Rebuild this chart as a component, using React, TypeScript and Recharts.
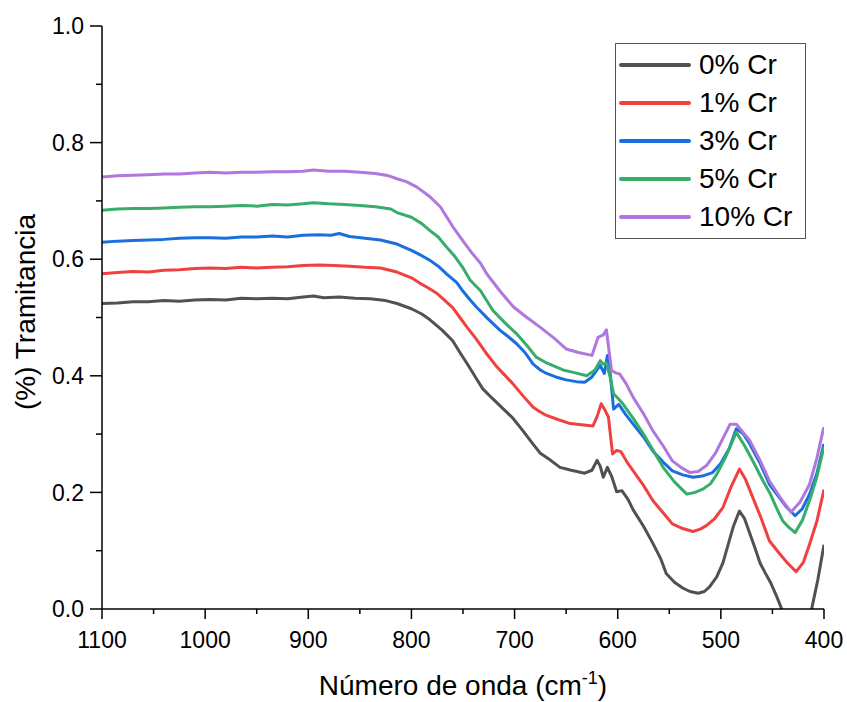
import { LineChart, Line, XAxis, YAxis, Label } from "recharts";

// wavenumber (cm-1), transmittance pairs
const cr0: [number, number][] = [
  [1100, 0.524], [1085, 0.525], [1070, 0.527], [1055, 0.527], [1040, 0.529], [1025, 0.528],
  [1010, 0.53], [995, 0.531], [980, 0.53], [965, 0.533], [950, 0.532], [935, 0.533],
  [920, 0.532], [905, 0.535], [895, 0.537], [885, 0.534], [870, 0.535], [855, 0.533],
  [840, 0.532], [825, 0.529], [814, 0.524], [800, 0.515], [790, 0.506], [782, 0.496],
  [770, 0.478], [760, 0.46], [753, 0.44], [745, 0.418], [738, 0.398], [731, 0.378],
  [722, 0.362], [712, 0.345], [702, 0.328], [692, 0.306], [683, 0.285], [675, 0.267],
  [665, 0.255], [656, 0.243], [645, 0.238], [632, 0.233], [625, 0.238], [620, 0.255],
  [617, 0.245], [614, 0.226], [610, 0.243], [606, 0.228], [601, 0.201], [596, 0.203],
  [590, 0.188], [585, 0.17], [575, 0.142], [566, 0.113], [558, 0.085], [553, 0.061],
  [545, 0.046], [537, 0.036], [530, 0.03], [522, 0.027], [516, 0.03], [511, 0.038],
  [504, 0.055], [498, 0.079], [493, 0.11], [488, 0.141], [482, 0.168], [477, 0.155],
  [472, 0.13], [467, 0.105], [462, 0.079], [457, 0.062], [452, 0.046], [446, 0.022],
  [441, 0.0], [433, -0.04], [425, -0.06], [418, -0.04], [412, 0.0], [406, 0.05], [400, 0.11],
];

const cr1: [number, number][] = [
  [1100, 0.575], [1085, 0.577], [1070, 0.579], [1055, 0.578], [1040, 0.581], [1025, 0.582],
  [1010, 0.584], [995, 0.585], [980, 0.584], [965, 0.586], [950, 0.585], [935, 0.586],
  [920, 0.587], [905, 0.589], [890, 0.59], [875, 0.589], [860, 0.588], [845, 0.586],
  [830, 0.585], [814, 0.578], [800, 0.568], [792, 0.559], [784, 0.551], [775, 0.541],
  [768, 0.53], [760, 0.517], [753, 0.5], [746, 0.483], [738, 0.465], [728, 0.44],
  [717, 0.415], [710, 0.402], [702, 0.387], [692, 0.366], [682, 0.346], [675, 0.338],
  [669, 0.332], [658, 0.325], [646, 0.318], [635, 0.316], [624, 0.314], [620, 0.33],
  [616, 0.352], [612, 0.34], [609, 0.329], [605, 0.266], [601, 0.272], [597, 0.27],
  [591, 0.252], [585, 0.237], [575, 0.212], [566, 0.186], [556, 0.165], [547, 0.146],
  [537, 0.138], [527, 0.133], [520, 0.137], [514, 0.143], [506, 0.155], [498, 0.174],
  [490, 0.21], [482, 0.24], [476, 0.222], [469, 0.191], [461, 0.156], [453, 0.117],
  [444, 0.097], [436, 0.08], [427, 0.064], [420, 0.08], [414, 0.111], [407, 0.15],
  [401, 0.197], [400, 0.205],
];

const cr3: [number, number][] = [
  [1100, 0.629], [1085, 0.631], [1070, 0.632], [1055, 0.633], [1040, 0.634], [1025, 0.636],
  [1010, 0.637], [995, 0.637], [980, 0.636], [965, 0.638], [950, 0.638], [935, 0.64],
  [920, 0.638], [905, 0.641], [890, 0.642], [878, 0.641], [870, 0.644], [860, 0.639],
  [845, 0.636], [830, 0.633], [814, 0.626], [800, 0.615], [790, 0.606], [782, 0.598],
  [774, 0.588], [766, 0.575], [756, 0.56], [750, 0.545], [743, 0.53], [737, 0.518],
  [726, 0.498], [714, 0.478], [706, 0.467], [698, 0.455], [690, 0.44], [682, 0.42],
  [675, 0.41], [669, 0.404], [660, 0.398], [650, 0.393], [640, 0.39], [632, 0.389],
  [625, 0.398], [617, 0.418], [613, 0.404], [610, 0.435], [607, 0.4], [604, 0.343],
  [599, 0.351], [592, 0.333], [585, 0.317], [575, 0.295], [566, 0.271], [556, 0.252],
  [547, 0.237], [537, 0.23], [527, 0.226], [518, 0.228], [508, 0.234], [500, 0.25],
  [492, 0.275], [485, 0.309], [478, 0.3], [472, 0.283], [462, 0.25], [453, 0.214],
  [444, 0.193], [436, 0.174], [428, 0.16], [421, 0.172], [414, 0.197], [407, 0.232],
  [401, 0.277], [400, 0.283],
];

const cr5: [number, number][] = [
  [1100, 0.684], [1085, 0.686], [1070, 0.687], [1055, 0.687], [1040, 0.688], [1025, 0.689],
  [1010, 0.69], [995, 0.69], [980, 0.691], [965, 0.692], [950, 0.691], [935, 0.694],
  [920, 0.693], [905, 0.695], [895, 0.697], [880, 0.695], [865, 0.694], [850, 0.692],
  [835, 0.69], [820, 0.686], [814, 0.68], [800, 0.672], [790, 0.661], [782, 0.649],
  [774, 0.638], [766, 0.621], [758, 0.605], [750, 0.585], [743, 0.564], [733, 0.546],
  [721, 0.512], [710, 0.492], [698, 0.472], [688, 0.452], [679, 0.432], [669, 0.422],
  [661, 0.416], [653, 0.41], [641, 0.405], [630, 0.4], [622, 0.41], [617, 0.426],
  [614, 0.42], [611, 0.422], [607, 0.395], [604, 0.369], [600, 0.362], [595, 0.352],
  [585, 0.327], [575, 0.3], [565, 0.27], [556, 0.243], [545, 0.218], [533, 0.197],
  [525, 0.2], [517, 0.206], [510, 0.215], [504, 0.231], [495, 0.262], [485, 0.303],
  [477, 0.28], [469, 0.254], [461, 0.226], [452, 0.197], [446, 0.173], [440, 0.151],
  [434, 0.14], [428, 0.131], [421, 0.152], [414, 0.186], [407, 0.226], [401, 0.271],
  [400, 0.278],
];

const cr10: [number, number][] = [
  [1100, 0.741], [1085, 0.743], [1070, 0.744], [1055, 0.745], [1040, 0.746], [1025, 0.746],
  [1010, 0.748], [995, 0.749], [980, 0.748], [965, 0.749], [950, 0.749], [935, 0.75],
  [920, 0.75], [905, 0.751], [895, 0.753], [880, 0.751], [865, 0.751], [850, 0.749],
  [835, 0.747], [822, 0.743], [814, 0.738], [805, 0.733], [795, 0.724], [782, 0.707],
  [772, 0.69], [760, 0.656], [752, 0.636], [742, 0.612], [733, 0.593], [727, 0.575],
  [714, 0.545], [701, 0.518], [688, 0.5], [675, 0.483], [662, 0.465], [650, 0.446],
  [638, 0.44], [625, 0.435], [619, 0.466], [614, 0.47], [611, 0.479], [606, 0.409],
  [602, 0.405], [598, 0.403], [592, 0.387], [585, 0.363], [575, 0.335], [566, 0.306],
  [556, 0.28], [547, 0.254], [538, 0.242], [530, 0.234], [522, 0.236], [514, 0.246],
  [505, 0.268], [497, 0.296], [491, 0.317], [485, 0.317], [478, 0.302], [472, 0.289],
  [462, 0.255], [453, 0.22], [442, 0.19], [432, 0.166], [423, 0.184], [414, 0.214],
  [407, 0.258], [401, 0.306], [400, 0.312],
];

const seriesNames = ["0% Cr", "1% Cr", "3% Cr", "5% Cr", "10% Cr"];
const seriesColors = ["#515151", "#F14040", "#1A6FDF", "#37AD6B", "#B177DE"];
const seriesData = [cr0, cr1, cr3, cr5, cr10];

const xTicks = [1100, 1050, 1000, 950, 900, 850, 800, 750, 700, 650, 600, 550, 500, 450, 400];
const yTicks = [0, 0.1, 0.2, 0.3, 0.4, 0.5, 0.6, 0.7, 0.8, 0.9, 1.0];

const FONT = "'Liberation Sans', Arial, sans-serif";

const XTick = (props: any) => {
  const { x, y, payload } = props;
  const v = payload.value;
  const major = v % 100 === 0;
  return (
    <g>
      <line x1={x} y1={y} x2={x} y2={y + (major ? 10 : 5)} stroke="#000" strokeWidth={1.5} />
      {major && (
        <text x={x} y={y + 39} textAnchor="middle" fontSize={23} fontFamily={FONT} fill="#000">
          {v}
        </text>
      )}
    </g>
  );
};

const YTick = (props: any) => {
  const { x, y, payload } = props;
  const v = payload.value;
  const major = Math.round(v * 10) % 2 === 0;
  return (
    <g>
      <line x1={x} y1={y} x2={x - (major ? 12 : 6)} y2={y} stroke="#000" strokeWidth={1.5} />
      {major && (
        <text x={x - 18} y={y} dy="0.36em" textAnchor="end" fontSize={23} fontFamily={FONT} fill="#000">
          {v.toFixed(1)}
        </text>
      )}
    </g>
  );
};

export default function App() {
  return (
    <div style={{ position: "absolute", left: 0, top: 0, width: 847, height: 702, background: "#fff" }}>
      <LineChart width={847} height={702} margin={{ top: 26, right: 23, bottom: 0, left: 0 }}>
        <XAxis
          dataKey="w"
          type="number"
          domain={[400, 1100]}
          reversed
          allowDataOverflow
          ticks={xTicks}
          interval={0}
          height={93}
          tickSize={0}
          tickMargin={0}
          tickLine={false}
          tick={<XTick />}
          axisLine={{ stroke: "#000", strokeWidth: 1.5 }}
        >
          <Label
            content={() => (
              <text x={463} y={695} textAnchor="middle" fontSize={28} fontFamily={FONT} fill="#000">
                Número de onda (cm
                <tspan dy={-11} fontSize={18}>-1</tspan>
                <tspan dy={11}>)</tspan>
              </text>
            )}
          />
        </XAxis>
        <XAxis
          xAxisId="top"
          orientation="top"
          type="number"
          domain={[400, 1100]}
          reversed
          height={0}
          tick={false}
          tickLine={false}
          axisLine={{ stroke: "#000", strokeWidth: 1.5 }}
        />
        <YAxis
          type="number"
          domain={[0, 1]}
          allowDataOverflow
          ticks={yTicks}
          interval={0}
          width={102}
          tickSize={0}
          tickMargin={0}
          tickLine={false}
          tick={<YTick />}
          axisLine={{ stroke: "#000", strokeWidth: 1.5 }}
        >
          <Label
            content={() => (
              <text
                x={35}
                y={312}
                transform="rotate(-90, 35, 312)"
                textAnchor="middle"
                fontSize={28}
                fontFamily={FONT}
                fill="#000"
              >
                (%) Tramitancia
              </text>
            )}
          />
        </YAxis>
        <YAxis
          yAxisId="right"
          orientation="right"
          type="number"
          domain={[0, 1]}
          width={0}
          tick={false}
          tickLine={false}
          axisLine={{ stroke: "#000", strokeWidth: 1.5 }}
        />
        {seriesData.map((pts, i) => (
          <Line
            key={seriesNames[i]}
            data={pts.map(([w, t]) => ({ w, t }))}
            dataKey="t"
            name={seriesNames[i]}
            stroke={seriesColors[i]}
            strokeWidth={3}
            strokeLinejoin="round"
            dot={false}
            activeDot={false}
            type="linear"
            isAnimationActive={false}
          />
        ))}
      </LineChart>

      {/* legend box */}
      <div
        style={{
          position: "absolute",
          left: 615,
          top: 43,
          width: 189,
          height: 194,
          border: "1px solid #555",
          background: "#fff",
          fontFamily: FONT,
        }}
      >
        {seriesNames.map((name, i) => (
          <div
            key={name}
            style={{ position: "absolute", left: 0, top: 2 + i * 38.1, height: 38, width: 189, display: "flex", alignItems: "center" }}
          >
            <div style={{ marginLeft: 3, width: 72, height: 4, background: seriesColors[i], borderRadius: 2 }} />
            <span style={{ marginLeft: 8, fontSize: 28, lineHeight: "28px", color: "#000" }}>{name}</span>
          </div>
        ))}
      </div>
    </div>
  );
}
